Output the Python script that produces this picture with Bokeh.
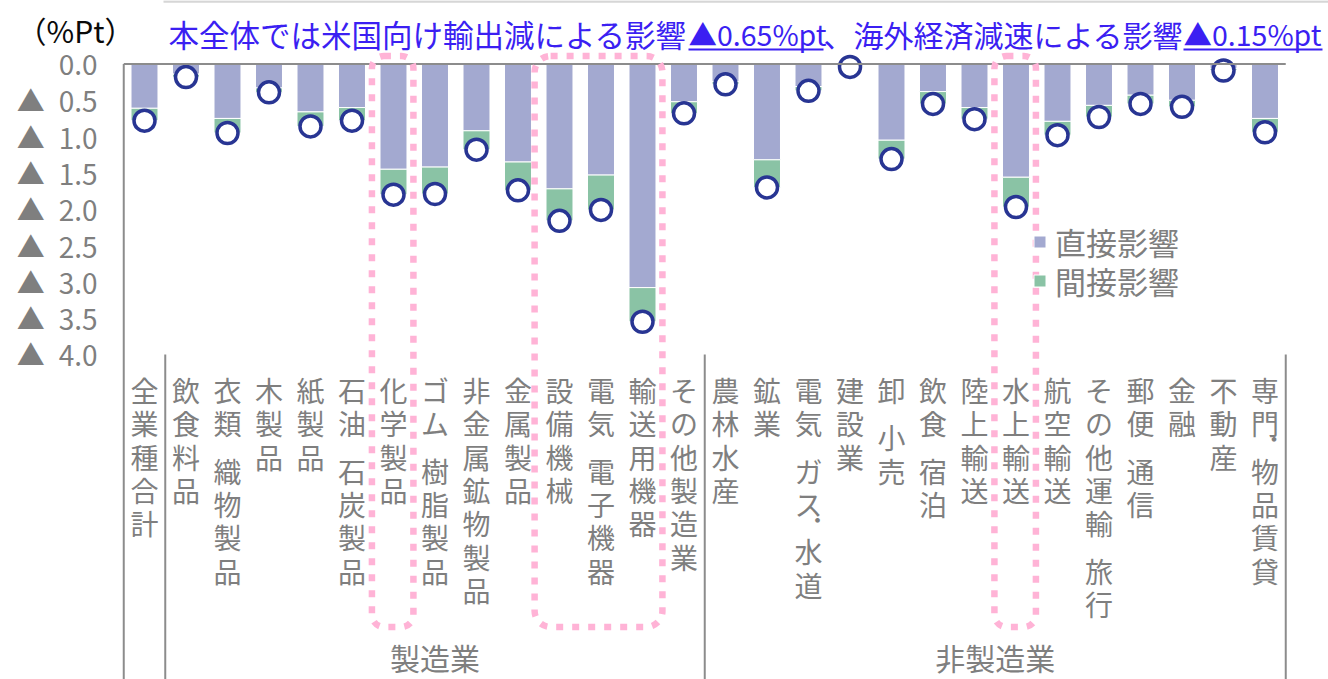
from bokeh.plotting import figure
from bokeh.models import Range1d, ColumnDataSource, BoxAnnotation, Legend, LegendItem
from bokeh.core.properties import value
from bokeh.embed import file_html
from bokeh.resources import INLINE

# ---------------- data ----------------
categories = ["全業種合計", "飲食料品", "衣類 織物製品", "木製品", "紙製品", "石油 石炭製品",
              "化学製品", "ゴム 樹脂製品", "非金属鉱物製品", "金属製品", "設備機械",
              "電気 電子機器", "輸送用機器", "その他製造業",
              "農林水産", "鉱業", "電気 ガス・水道", "建設業", "卸 小売", "飲食 宿泊",
              "陸上輸送", "水上輸送", "航空輸送", "その他運輸 旅行", "郵便 通信", "金融",
              "不動産", "専門・物品賃貸"]
direct = [0.61, 0.14, 0.75, 0.33, 0.66, 0.60, 1.45, 1.42, 0.92, 1.35, 1.72, 1.53, 3.08, 0.52,
          0.24, 1.32, 0.31, 0.03, 1.05, 0.38, 0.60, 1.56, 0.79, 0.57, 0.43, 0.50, 0.06, 0.75]
indirect = [0.17, 0.04, 0.20, 0.06, 0.20, 0.18, 0.35, 0.37, 0.26, 0.39, 0.44, 0.48, 0.47, 0.16,
            0.04, 0.38, 0.06, 0.01, 0.26, 0.17, 0.16, 0.41, 0.19, 0.16, 0.12, 0.09, 0.03, 0.19]
series_names = ["直接影響", "間接影響"]
groups = ["製造業", "非製造業"]
group_sizes = [13, 14]          # categories after 全業種合計 belonging to each group
y_ticks = [0.0, 0.5, 1.0, 1.5, 2.0, 2.5, 3.0, 3.5, 4.0]
y_tick_labels = ["0.0", "▲\u20020.5", "▲\u20021.0", "▲\u20021.5", "▲\u20022.0",
                 "▲\u20022.5", "▲\u20023.0", "▲\u20023.5", "▲\u20024.0"]
unit_label = "（%Pt）"
title_parts = ["本全体では米国向け輸出減による影響", "▲0.65%pt", "、海外経済減速による影響", "▲0.15%pt"]
highlights = [("化学製品", "化学製品"), ("設備機械", "輸送用機器"), ("水上輸送", "水上輸送")]

# ---------------- layout / style ----------------
W, H = 1328, 679
PX0, STEP = 144.0, 41.5       # px of first category centre, px per category
PY0, UNIT = 63.5, 72.6        # px of value 0, px per 1.0
FONT_NAME = "Noto Sans CJK JP"
FONT = value(FONT_NAME)
GRAY = "#7F7F7F"
AXIS = "#8C8C8C"
C_DIRECT = "#A3A9D0"
C_INDIRECT = "#8AC3A5"
C_CIRCLE = "#283593"
PINK = "#FFB3D6"
TITLE_C = "#3B1FF2"


def X(px):
    return (px - PX0) / STEP


def Y(py):
    return (py - PY0) / UNIT


p = figure(width=W, height=H, output_backend="svg", toolbar_location=None,
           x_range=Range1d(X(0), X(W)), y_range=Range1d(Y(H), Y(0)),
           min_border=0, x_axis_location=None, y_axis_location=None,
           outline_line_color=None, background_fill_color="white",
           border_fill_color="white")
p.xgrid.grid_line_color = None
p.ygrid.grid_line_color = None

n = len(categories)
xs = list(range(n))
total = [d + i for d, i in zip(direct, indirect)]
src = ColumnDataSource(dict(x=xs, direct=direct, indirect=indirect, total=total))

# bars
bars = p.vbar_stack(["direct", "indirect"], x="x", width=0.65, source=src,
                    fill_color=[C_DIRECT, C_INDIRECT], line_color="white", line_width=1)
# circles (total)
p.scatter("x", "total", source=src, size=21, fill_color="white",
          line_color=C_CIRCLE, line_width=3.5)

# axis lines
p.segment(x0=[-0.5], y0=[0], x1=[n - 0.5], y1=[0], line_color=AXIS, line_width=2)
p.segment(x0=[-0.5], y0=[0], x1=[-0.5], y1=[Y(H)], line_color=AXIS, line_width=2)
sep_x = [0.5]
acc = 0.5
for g in group_sizes:
    acc += g
    sep_x.append(acc)
p.segment(x0=sep_x, y0=[y_ticks[-1]] * len(sep_x), x1=sep_x, y1=[Y(H)] * len(sep_x),
          line_color=AXIS, line_width=2)

# y tick labels
p.text(x=[X(97)] * len(y_ticks), y=y_ticks, text=y_tick_labels, text_font=FONT,
       text_font_size="28px", text_color=GRAY, text_align="right", text_baseline="middle")

# vertical category labels
PITCH = 33.3
GAP = 0.42 * PITCH
cx, cy, ct = [], [], []
dx, dy = [], []
for i, lab in enumerate(categories):
    cur = 373.0
    for ch in lab:
        if ch == " ":
            cur += GAP
            continue
        if ch == "・":
            dx.append(i + 9 / STEP)
            dy.append(Y(cur - 3))
            cur += GAP
            continue
        cx.append(i)
        cy.append(Y(cur + PITCH / 2))
        ct.append(ch)
        cur += PITCH
p.text(x=cx, y=cy, text=ct, text_font=FONT, text_font_size="28px", text_color=GRAY,
       text_align="center", text_baseline="middle")
p.text(x=dx, y=dy, text=["・"] * len(dx), text_font=FONT, text_font_size="22px",
       text_color=GRAY, text_align="center", text_baseline="middle")

# group labels
gx = []
start = 1
for g in group_sizes:
    gx.append(start + (g - 1) / 2)
    start += g
p.text(x=gx, y=[Y(656)] * len(gx), text=groups, text_font=FONT, text_font_size="30px",
       text_color=GRAY, text_align="center", text_baseline="middle")

# unit label and title
p.text(x=[X(75)], y=[Y(29.5)], text=[unit_label], text_font=FONT, text_font_size="30px",
       text_color="#0A0A0A", text_align="center", text_baseline="middle")
title_px = [168, 688, 823, 1183, 1322]
title_sizes = ["30.5px", "28.5px", "30px", "28.5px"]
for k, part in enumerate(title_parts):
    p.text(x=[X(title_px[k])], y=[Y(33)], text=[part], text_font=FONT,
           text_font_size=title_sizes[k], text_color=TITLE_C, text_align="left",
           text_baseline="middle")
p.segment(x0=[X(title_px[1]), X(title_px[3])], y0=[Y(49)] * 2,
          x1=[X(title_px[2]), X(title_px[4])], y1=[Y(49)] * 2,
          line_color=TITLE_C, line_width=2)
# faint top rule
p.segment(x0=[X(163)], y0=[Y(1)], x1=[X(W)], y1=[Y(1)], line_color="#D6D6D6", line_width=2.5)

# pink highlight boxes
for a, b in highlights:
    ia, ib = categories.index(a), categories.index(b)
    radius = 16 if ib > ia else 12
    left_pad = 0.6 if ib > ia else 0.52
    p.add_layout(BoxAnnotation(left=ia - left_pad, right=ib + 0.48, top=Y(55.5), bottom=Y(626.5),
                               fill_alpha=0, line_color=PINK, line_alpha=1.0, line_width=6.5,
                               line_dash="7 9", border_radius=radius))

# legend (one entry per Legend so each row sits where the reference has it)
for k, (name, ypos) in enumerate(zip(series_names, [415, 376])):
    lg = Legend(items=[LegendItem(label=name, renderers=[bars[k]])],
                location=(1032, ypos), orientation="vertical", padding=0, margin=0,
                spacing=0, glyph_width=15, glyph_height=15, label_standoff=8,
                label_text_font=FONT_NAME, label_text_font_size="31px",
                label_text_color=GRAY, border_line_color=None,
                background_fill_alpha=0)
    p.add_layout(lg)

open("out.html", "w").write(file_html(p, INLINE))
